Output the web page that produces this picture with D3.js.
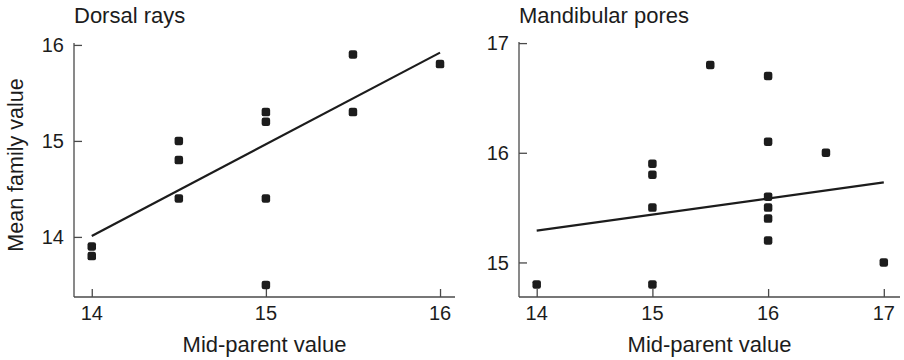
<!DOCTYPE html>
<html>
<head>
<meta charset="utf-8">
<script src="https://cdn.jsdelivr.net/npm/d3@7"></script>
<style>
  html, body { margin: 0; padding: 0; background: #fff; }
  svg { display: block; font-family: "Liberation Sans", Arial, sans-serif; }
</style>
</head>
<body>
<svg id="chart" width="904" height="360"></svg>
<script>
// Dorsal rays: mid-parent value vs mean family value
const dorsalX = [14, 14, 14.5, 14.5, 14.5, 15, 15, 15, 15, 15.5, 15.5, 16];
const dorsalY = [13.9, 13.8, 15.0, 14.8, 14.4, 15.3, 15.2, 14.4, 13.5, 15.9, 15.3, 15.8];
const dorsalFitX = [14, 16];
const dorsalFitY = [14.01, 15.92];
const dorsalXTicks = [14, 15, 16];
const dorsalYTicks = [14, 15, 16];

// Mandibular pores
const mandX = [14, 15, 15, 15, 15, 15.5, 16, 16, 16, 16, 16, 16, 16.5, 17];
const mandY = [14.8, 15.9, 15.8, 15.5, 14.8, 16.8, 16.7, 16.1, 15.6, 15.5, 15.4, 15.2, 16.0, 15.0];
const mandFitX = [14, 17];
const mandFitY = [15.29, 15.73];
const mandXTicks = [14, 15, 16, 17];
const mandYTicks = [15, 16, 17];

const svg = d3.select("#chart");
const ink = "#1c1c1c";
const axisInk = "#4a4a4a";

function panel(cfg) {
  const g = svg.append("g");
  const x = d3.scaleLinear().domain(cfg.xDomain).range([cfg.left, cfg.right]);
  const y = d3.scaleLinear().domain(cfg.yDomain).range([cfg.bottom, cfg.top]);

  // axis lines
  g.append("line").attr("x1", cfg.left).attr("x2", cfg.left)
    .attr("y1", cfg.top).attr("y2", cfg.bottom)
    .attr("stroke", axisInk).attr("stroke-width", 1.3);
  g.append("line").attr("x1", cfg.left).attr("x2", cfg.right)
    .attr("y1", cfg.bottom).attr("y2", cfg.bottom)
    .attr("stroke", axisInk).attr("stroke-width", 1.3);

  // inward ticks via d3 axes
  const xAxis = d3.axisTop(x).tickValues(cfg.xTicks).tickSize(8).tickFormat("");
  g.append("g").attr("transform", `translate(0,${cfg.bottom})`).call(xAxis)
    .call(a => a.select(".domain").remove())
    .call(a => a.selectAll("line").attr("stroke", axisInk).attr("stroke-width", 1.3));
  const yAxis = d3.axisRight(y).tickValues(cfg.yTicks).tickSize(8).tickFormat("");
  g.append("g").attr("transform", `translate(${cfg.left},0)`).call(yAxis)
    .call(a => a.select(".domain").remove())
    .call(a => a.selectAll("line").attr("stroke", axisInk).attr("stroke-width", 1.3));

  // tick labels
  g.selectAll(".xl").data(cfg.xTicks).join("text")
    .attr("x", d => x(d)).attr("y", cfg.bottom + 23)
    .attr("text-anchor", "middle").attr("font-size", 20).attr("fill", ink)
    .text(d => d);
  g.selectAll(".yl").data(cfg.yTicks).join("text")
    .attr("x", cfg.left - 10).attr("y", d => y(d)).attr("dy", "0.36em")
    .attr("text-anchor", "end").attr("font-size", 20).attr("fill", ink)
    .text(d => d);

  // titles
  g.append("text").attr("x", cfg.left).attr("y", 23)
    .attr("font-size", 22).attr("fill", ink).text(cfg.title);
  g.append("text").attr("x", (cfg.left + cfg.right) / 2).attr("y", 352)
    .attr("text-anchor", "middle").attr("font-size", 22).attr("fill", ink)
    .text("Mid-parent value");
  if (cfg.yTitle) {
    g.append("text")
      .attr("transform", `translate(23,${(cfg.top + cfg.bottom) / 2 - 5}) rotate(-90)`)
      .attr("text-anchor", "middle").attr("font-size", 21.5).attr("fill", ink)
      .text(cfg.yTitle);
  }

  // fitted line
  const fit = cfg.fitX.map((v, i) => [v, cfg.fitY[i]]);
  g.append("path").datum(fit)
    .attr("d", d3.line().x(d => x(d[0])).y(d => y(d[1])))
    .attr("stroke", ink).attr("stroke-width", 2.2).attr("fill", "none");

  // points
  const pts = cfg.xs.map((v, i) => [v, cfg.ys[i]]);
  const s = 8.5;
  g.selectAll(".pt").data(pts).join("rect")
    .attr("x", d => x(d[0]) - s / 2).attr("y", d => y(d[1]) - s / 2)
    .attr("width", s).attr("height", s).attr("rx", 2.2)
    .attr("fill", ink);
}

panel({
  title: "Dorsal rays", yTitle: "Mean family value",
  xs: dorsalX, ys: dorsalY, fitX: dorsalFitX, fitY: dorsalFitY,
  xTicks: dorsalXTicks, yTicks: dorsalYTicks,
  xDomain: [13.898, 16.086], yDomain: [13.374, 16.02],
  left: 74, right: 455, top: 43, bottom: 297
});

panel({
  title: "Mandibular pores",
  xs: mandX, ys: mandY, fitX: mandFitX, fitY: mandFitY,
  xTicks: mandXTicks, yTicks: mandYTicks,
  xDomain: [13.847, 17.14], yDomain: [14.685, 17.01],
  left: 519, right: 900, top: 42, bottom: 297
});
</script>
</body>
</html>
